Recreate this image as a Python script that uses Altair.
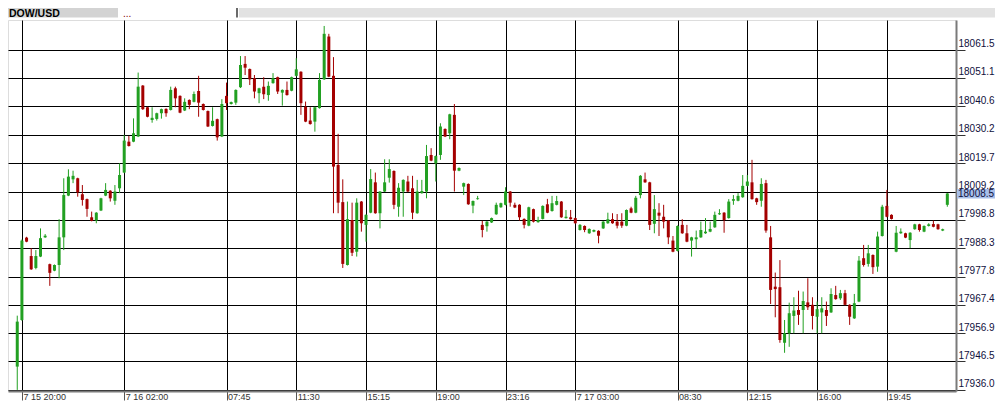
import altair as alt
import pandas as pd

# ---- data (15-minute DOW/USD candles) ----
opens = [17944.6, 17961.8, 17992.2, 17985.4, 17981.0, 17985.2, 17992.3, 17982.4, 17980.0, 17982.1,
         17992.3, 18007.7, 18013.7, 18014.1, 18008.2, 18006.4, 17999.7, 17998.5, 18002.2, 18007.7,
         18009.5, 18005.8, 18010.4, 18016.2, 18027.6, 18027.6, 18029.5, 18048.3, 18040.3, 18035.6,
         18036.0, 18038.1, 18039.7, 18039.3, 18047.3, 18044.5, 18039.1, 18043.0, 18042.3, 18046.3,
         18041.5, 18038.9, 18033.4, 18035.9, 18029.5, 18044.5, 18041.5, 18042.0, 18047.7, 18056.3,
         18054.4, 18051.0, 18045.5, 18047.9, 18044.8, 18049.2, 18051.4, 18045.7, 18046.7, 18046.4,
         18051.9, 18053.4, 18040.5, 18035.4, 18035.0, 18040.0, 18050.6, 18066.4, 18051.9, 18019.0,
         18005.3, 17982.1, 17998.7, 17987.0, 18005.5, 17996.9, 18001.4, 18012.6, 18001.2, 18009.2,
         18014.3, 18016.8, 18003.6, 18009.2, 18012.9, 18010.4, 18001.2, 18008.6, 18009.2, 18022.7,
         18019.6, 18022.7, 18032.3, 18030.7, 18037.5, 18016.9, 18011.0, 18012.0, 18004.0, 18006.4,
         17996.9, 17996.4, 17997.8, 18000.8, 18003.4, 18004.3, 18009.2, 18004.3, 18004.3, 17999.1,
         17996.6, 18002.7, 17997.9, 17999.1, 18004.5, 18002.0, 18004.3, 18005.5, 17999.4, 17999.7,
         17999.4, 17995.0, 17996.5, 17993.8, 17994.4, 17994.7, 17995.6, 17997.5, 17999.0, 17998.1,
         17998.1, 17996.6, 18003.0, 18001.4, 18007.9, 18013.7, 18012.6, 17997.3, 18001.4, 17999.9,
         17998.5, 17991.1, 17987.3, 17996.9, 17993.8, 17991.1, 17991.6, 17992.3, 17993.8, 17994.4,
         17996.0, 18000.8, 18001.4, 17999.4, 18005.8, 18005.8, 18007.1, 18011.3, 18012.6, 18006.7,
         18005.8, 18012.3, 17992.3, 17974.1, 17973.9, 17953.4, 17956.9, 17963.3, 17965.5, 17965.5,
         17968.3, 17967.4, 17963.0, 17964.6, 17965.5, 17964.6, 17971.0, 17969.8, 17971.7, 17967.4,
         17962.4, 17968.6, 17984.6, 17982.5, 17985.8, 17981.5, 17992.8, 18003.9, 18000.6, 17987.0,
         17993.8, 17993.8, 17991.3, 17995.3, 17997.1, 17994.4, 17996.5, 17997.2, 17997.1, 17994.8,
         18004.3]

highs = [17963.4, 17991.5, 17992.5, 17988.3, 17987.6, 17995.6, 17993.5, 17982.6, 17982.3, 17999.0,
         18014.1, 18017.4, 18016.9, 18014.3, 18011.6, 18006.6, 18001.8, 18001.6, 18006.9, 18012.3,
         18009.7, 18011.6, 18019.6, 18030.1, 18029.7, 18036.2, 18053.1, 18048.5, 18040.5, 18040.3,
         18038.3, 18039.8, 18039.9, 18047.9, 18047.9, 18044.7, 18043.6, 18043.2, 18046.1, 18051.9,
         18041.7, 18039.1, 18040.3, 18036.1, 18043.3, 18049.4, 18042.4, 18046.9, 18059.2, 18059.2,
         18054.6, 18052.2, 18047.5, 18051.4, 18049.8, 18052.9, 18051.6, 18046.9, 18049.8, 18051.6,
         18058.4, 18053.6, 18042.4, 18040.3, 18040.5, 18052.9, 18070.3, 18067.4, 18058.8, 18030.5,
         18013.7, 18005.5, 18005.1, 18006.7, 18005.7, 18000.8, 18017.5, 18016.2, 18009.4, 18021.1,
         18021.1, 18017.0, 18012.3, 18013.7, 18015.0, 18015.0, 18013.5, 18013.5, 18026.4, 18025.2,
         18022.5, 18034.4, 18032.5, 18037.9, 18041.5, 18018.1, 18012.5, 18012.2, 18005.9, 18007.6,
         17998.4, 17998.3, 17999.6, 18005.1, 18005.1, 18010.8, 18009.4, 18005.1, 18004.5, 17999.3,
         18003.6, 18002.9, 17999.9, 18004.1, 18006.5, 18007.6, 18007.6, 18005.7, 18002.4, 18002.4,
         17999.6, 17997.2, 17996.7, 17995.6, 17995.2, 17994.9, 17998.3, 18001.4, 18001.2, 18000.9,
         18001.2, 18002.6, 18003.6, 18007.6, 18015.3, 18016.2, 18012.8, 18007.9, 18004.9, 18004.3,
         17998.7, 17992.8, 17996.7, 17999.0, 17996.9, 17992.5, 17994.8, 17998.1, 17999.4, 17998.1,
         18001.8, 18002.7, 18001.6, 18006.4, 18007.9, 18008.6, 18015.3, 18015.3, 18020.9, 18006.9,
         18014.1, 18013.5, 17996.5, 17979.3, 17983.9, 17961.8, 17968.2, 17970.2, 17972.6, 17972.3,
         17977.2, 17970.2, 17968.6, 17970.2, 17968.6, 17973.5, 17974.4, 17972.9, 17972.9, 17967.6,
         17971.4, 17985.4, 17989.5, 17989.5, 17986.0, 17994.4, 18004.3, 18009.8, 18000.8, 17996.5,
         17995.6, 17994.0, 17994.2, 17997.3, 17997.3, 17996.7, 17997.5, 17998.5, 17997.3, 17995.5,
         18008.6]

lows = [17936.0, 17961.5, 17990.5, 17980.3, 17980.5, 17985.0, 17992.1, 17974.4, 17979.8, 17977.2,
        17987.6, 18007.5, 18012.3, 18007.3, 18004.0, 17999.9, 17998.2, 17997.5, 18002.0, 18007.5,
        18005.5, 18004.3, 18008.6, 18016.0, 18025.8, 18027.4, 18029.3, 18039.3, 18036.6, 18034.6,
        18035.4, 18036.1, 18036.8, 18039.1, 18040.3, 18038.1, 18038.9, 18039.6, 18042.1, 18036.8,
        18039.1, 18033.0, 18033.2, 18028.0, 18029.3, 18039.3, 18041.3, 18041.2, 18047.4, 18052.2,
        18048.5, 18043.6, 18041.8, 18043.3, 18042.7, 18049.0, 18045.2, 18040.9, 18044.6, 18046.2,
        18051.7, 18037.5, 18034.8, 18033.9, 18031.3, 18039.8, 18050.4, 18051.4, 18001.2, 18001.2,
        17981.0, 17981.9, 17985.4, 17985.2, 17994.4, 17990.7, 18001.2, 18001.0, 17995.6, 18009.0,
        18012.5, 18002.7, 17999.9, 17999.9, 18009.0, 17999.0, 18001.0, 18008.4, 18006.7, 18020.4,
        18012.9, 18020.9, 18029.3, 18028.5, 18009.2, 18016.7, 18007.9, 18004.3, 18001.2, 18006.2,
        17992.3, 17994.4, 17997.6, 18000.6, 18003.2, 18004.1, 18003.6, 18003.1, 17998.5, 17995.6,
        17996.4, 17997.8, 17997.7, 17998.9, 18001.2, 18001.8, 18004.1, 17999.5, 17999.2, 17998.8,
        17997.3, 17994.8, 17994.2, 17993.6, 17994.2, 17990.1, 17995.4, 17997.3, 17997.3, 17995.6,
        17995.8, 17996.4, 18001.2, 18001.2, 18006.7, 18012.4, 17995.0, 17993.8, 17992.8, 17995.6,
        17989.8, 17986.8, 17987.1, 17993.6, 17990.5, 17985.2, 17988.3, 17992.1, 17993.6, 17994.2,
        17995.8, 18000.6, 17994.0, 17999.2, 18004.3, 18005.6, 18006.9, 18011.1, 18006.2, 18004.3,
        18003.6, 17994.0, 17967.7, 17962.8, 17953.4, 17949.7, 17951.9, 17956.9, 17960.0, 17956.9,
        17965.5, 17958.3, 17956.9, 17956.9, 17959.6, 17964.4, 17969.3, 17969.2, 17967.2, 17960.0,
        17962.2, 17968.4, 17981.5, 17981.5, 17978.8, 17979.6, 17992.6, 17999.7, 17998.9, 17986.8,
        17993.6, 17992.0, 17988.3, 17995.1, 17994.4, 17994.2, 17996.3, 17996.0, 17995.1, 17994.6,
        18003.6]

closes = [17961.2, 17991.1, 17990.7, 17980.5, 17985.4, 17992.0, 17992.9, 17979.2, 17982.1, 17992.3,
          18007.9, 18014.7, 18015.0, 18008.9, 18006.1, 18002.8, 17998.4, 18001.4, 18006.7, 18009.8,
          18006.7, 18009.2, 18015.3, 18028.0, 18026.0, 18030.7, 18047.9, 18039.6, 18036.8, 18036.4,
          18038.1, 18039.6, 18038.1, 18046.7, 18043.6, 18038.3, 18042.3, 18041.2, 18045.2, 18042.0,
          18039.3, 18033.2, 18035.3, 18029.2, 18041.5, 18041.8, 18042.2, 18046.7, 18055.9, 18054.9,
          18050.6, 18046.1, 18047.3, 18045.1, 18048.2, 18051.0, 18046.1, 18046.7, 18044.8, 18051.4,
          18054.3, 18041.8, 18035.0, 18034.1, 18040.3, 18050.4, 18067.4, 18051.6, 18018.4, 18005.1,
          17982.5, 17999.0, 17986.6, 18005.1, 17997.5, 18000.6, 18013.8, 18001.2, 18009.2, 18012.6,
          18017.5, 18004.3, 18010.6, 18013.5, 18009.2, 18001.4, 18009.2, 18009.4, 18022.3, 18020.6,
          18022.3, 18033.2, 18029.5, 18037.7, 18016.9, 18017.9, 18012.3, 18004.5, 18005.7, 18006.7,
          17995.0, 17998.1, 17999.4, 18004.3, 18004.9, 18009.2, 18005.1, 18003.3, 17999.7, 17996.9,
          18003.4, 17998.1, 17998.7, 18003.9, 18001.4, 18004.9, 18005.7, 17999.7, 17999.9, 17999.0,
          17997.5, 17996.9, 17995.0, 17995.4, 17995.0, 17992.9, 17998.1, 17999.0, 17997.5, 17996.6,
          17996.6, 18002.4, 18001.4, 18006.9, 18015.0, 18012.6, 17996.9, 18002.7, 18000.3, 17998.1,
          17992.3, 17987.0, 17996.5, 17993.8, 17990.7, 17992.3, 17992.3, 17995.0, 17994.4, 17995.4,
          18000.6, 18001.2, 17998.7, 18005.5, 18006.4, 18007.6, 18011.3, 18012.9, 18006.4, 18005.3,
          18012.0, 17994.8, 17972.9, 17973.2, 17954.4, 17956.9, 17964.3, 17965.3, 17963.7, 17968.8,
          17966.5, 17963.3, 17965.8, 17966.1, 17963.3, 17971.4, 17969.5, 17971.7, 17967.4, 17963.0,
          17968.0, 17983.7, 17982.1, 17986.4, 17981.3, 17992.6, 18003.6, 17999.9, 17999.1, 17994.0,
          17994.4, 17992.2, 17994.0, 17997.1, 17995.0, 17996.5, 17997.1, 17996.2, 17995.3, 17995.3,
          18008.5]

bar_index = list(range(1, len(opens) + 1))

y_tick_values = [17936.0, 17946.5, 17956.9, 17967.4, 17977.8, 17988.3, 17998.8,
                 18009.2, 18019.7, 18030.2, 18040.6, 18051.1, 18061.5]
x_tick_bars = [2, 24, 46, 61, 76, 91, 106, 121, 143, 158, 173, 188]
x_tick_labels = ["7 15 20:00", "7 16 02:00", "07:45", "11:30", "15:15", "19:00",
                 "23:16", "7 17 03:00", "08:30", "12:15", "16:00", "19:45"]
symbol_tab = "DOW/USD"
second_tab = "..."

# ---- styling ----
GREEN = "#22a022"
RED = "#a40000"
W, H = 948, 371

df = pd.DataFrame({"i": bar_index, "open": opens, "high": highs, "low": lows, "close": closes})
df["dir"] = ["up" if c >= o else "down" for o, c in zip(opens, closes)]

x_scale = alt.Scale(domain=[0.085, 201.79], nice=False, zero=False)
y_scale = alt.Scale(domain=[17935.6, 18072.5], nice=False, zero=False)
color_scale = alt.Scale(domain=["up", "down"], range=[GREEN, RED])

label_expr = ("[" + ",".join("'" + s + "'" for s in x_tick_labels) + "][indexof(["
              + ",".join(str(v) for v in x_tick_bars) + "], datum.value)]")

x_axis = alt.Axis(values=x_tick_bars, labelExpr=label_expr, grid=True, gridColor="#000000",
                  gridWidth=1, gridOpacity=1, domainColor="#7a7a7a", domainWidth=2,
                  tickColor="#555555", tickSize=9, tickWidth=1, labelAlign="left",
                  labelBaseline="top", labelPadding=-8, labelOffset=1,
                  labelFont="Liberation Sans", labelFontSize=9, labelColor="#333333",
                  labelFlush=False, labelOverlap=False, title=None)

y_axis = alt.Axis(orient="right", values=y_tick_values, format=".1f", grid=True,
                  gridColor="#000000", gridWidth=1, gridOpacity=1, domainColor="#7a7a7a",
                  domainWidth=2, tickColor="#333333", tickSize=9, tickWidth=1,
                  labelPadding=-7, labelAlign="left", labelBaseline="alphabetic",
                  labelOffset=-3, labelFont="Liberation Sans", labelFontSize=10,
                  labelColor="#10103c", labelFlush=False, labelOverlap=False, title=None)

X = alt.X("i:Q", scale=x_scale, axis=x_axis)

base = alt.Chart(df)

wicks = base.mark_rule(strokeWidth=1).encode(
    x=X,
    y=alt.Y("low:Q", scale=y_scale, axis=y_axis),
    y2="high:Q",
    color=alt.Color("dir:N", scale=color_scale, legend=None),
)

bodies = base.mark_bar(size=3).encode(
    x=X,
    y=alt.Y("open:Q", scale=y_scale, axis=y_axis),
    y2="close:Q",
    color=alt.Color("dir:N", scale=color_scale, legend=None),
)

last_df = pd.DataFrame({"price": [closes[-1]], "label": [f"{closes[-1]:.1f}"]})

badge = alt.Chart(last_df).mark_rect(color="#a8bfea", yOffset=-4.5, y2Offset=5).encode(
    x=alt.value(W + 1), x2=alt.value(W + 39),
    y=alt.Y("price:Q", scale=y_scale, axis=y_axis), y2="price:Q",
)
badge_text = alt.Chart(last_df).mark_text(
    align="left", baseline="middle", font="Liberation Sans", fontSize=10, color="#10103c", dy=0.5
).encode(
    x=alt.value(W + 2), y=alt.Y("price:Q", scale=y_scale, axis=y_axis), text="label:N"
)

tab_df = pd.DataFrame({"name": [symbol_tab], "other": [second_tab]})
tab_bg_right = alt.Chart(tab_df).mark_rect(color="#e2e2e2").encode(
    x=alt.value(231), x2=alt.value(W + 39), y=alt.value(-12), y2=alt.value(-2.5))
tab_sym = alt.Chart(tab_df).mark_rect(color="#d3d3d3").encode(
    x=alt.value(0), x2=alt.value(110), y=alt.value(-12), y2=alt.value(-2.5))
tab_sep = alt.Chart(tab_df).mark_rect(color="#6a6a6a").encode(
    x=alt.value(228), x2=alt.value(230), y=alt.value(-12), y2=alt.value(-2.5))
tab_sym_text = alt.Chart(tab_df).mark_text(
    align="left", baseline="middle", font="Liberation Sans", fontSize=10.5,
    fontWeight="bold", color="#000000").encode(
    x=alt.value(1), y=alt.value(-6.3), text="name:N")
tab_other_text = alt.Chart(tab_df).mark_text(
    align="left", baseline="middle", font="Liberation Sans", fontSize=10,
    color="#800000").encode(
    x=alt.value(115), y=alt.value(-6.3), text="other:N")

chart = alt.layer(
    wicks, bodies, badge, badge_text,
    tab_bg_right, tab_sym, tab_sep, tab_sym_text, tab_other_text
).properties(
    width=W, height=H, autosize="none",
    padding={"left": 0, "top": 12, "right": 39, "bottom": 10},
).configure_view(
    fill="#efefef", stroke="#9a9a9a", strokeWidth=1
).configure(background="#ffffff")

chart.save("out.html", embed_options={"renderer": "svg", "actions": False})
